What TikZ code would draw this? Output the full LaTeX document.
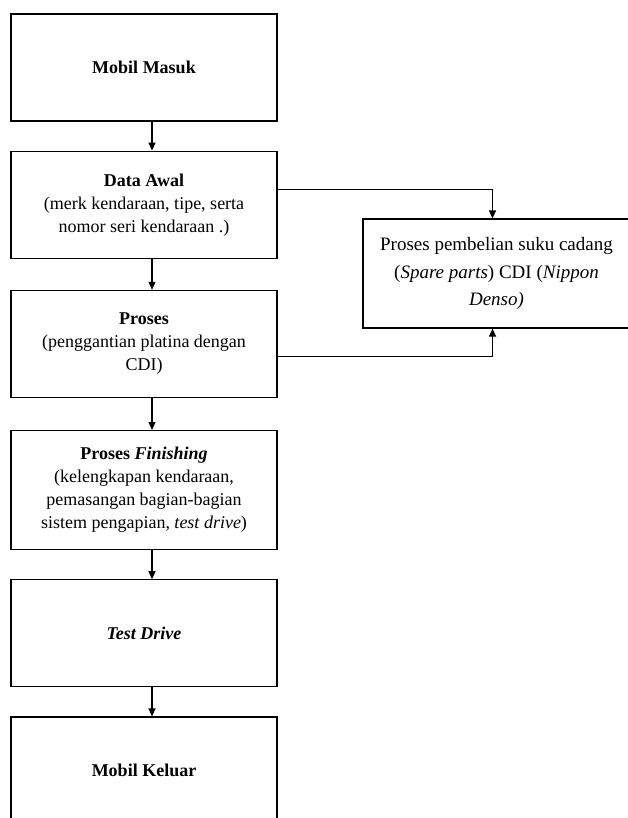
\documentclass[tikz,border=0pt]{standalone}
\usepackage{fontspec}
\setmainfont{Liberation Serif}
\usepackage{tikz}
\usetikzlibrary{arrows.meta,positioning}

\tikzset{
  flowbox/.style={draw,line width=1.2pt,minimum width=266pt,minimum height=107pt,
    align=center,inner sep=0pt},
  flowline/.style={line width=1.2pt,-{Triangle[length=8pt,width=7pt]}}
}

\begin{document}
\begin{tikzpicture}[x=1pt,y=1pt,font=\fontsize{18}{23}\selectfont,node distance=30pt]
        \clip (0,0) rectangle (628,-818);
        \node[flowbox] (masuk) at (144,-67.5) {\textbf{Mobil Masuk}};
        \node[flowbox,below=29pt of masuk] (awal) {\textbf{Data Awal}\\(merk kendaraan, tipe, serta\\nomor seri kendaraan .)};
        \node[flowbox,below=31pt of awal] (proses) {\textbf{Proses}\\(penggantian platina dengan\\CDI)};
        \node[flowbox,below=32pt of proses,minimum height=119pt] (finish) {\textbf{Proses \textit{Finishing}}\\(kelengkapan kendaraan,\\pemasangan bagian-bagian\\sistem pengapian, \textit{test drive})};
        \node[flowbox,below=29pt of finish] (test) {\textbf{\textit{Test Drive}}};
        \node[flowbox,below=29pt of test] (keluar) {\textbf{Mobil Keluar}};
        \node[flowbox,minimum width=267pt,minimum height=109pt,font=\fontsize{19}{27.5}\selectfont] (beli) at (496.5,-273.5) {Proses pembelian suku cadang\\(\textit{Spare parts}) CDI (\textit{Nippon}\\\textit{Denso)}};
        \draw[flowline] ([xshift=8pt]masuk.south) -- ([xshift=8pt]awal.north);
        \draw[flowline] ([xshift=8pt]awal.south) -- ([xshift=8pt]proses.north);
        \draw[flowline] ([xshift=8pt]proses.south) -- ([xshift=8pt]finish.north);
        \draw[flowline] ([xshift=8pt]finish.south) -- ([xshift=8pt]test.north);
        \draw[flowline] ([xshift=8pt]test.south) -- ([xshift=8pt]keluar.north);
        \draw[flowline] ([yshift=15.5pt]awal.east) -| ([xshift=-4pt]beli.north);
        \draw[flowline] ([yshift=-12.5pt]proses.east) -| ([xshift=-4pt]beli.south);
      \end{tikzpicture}
\end{document}
